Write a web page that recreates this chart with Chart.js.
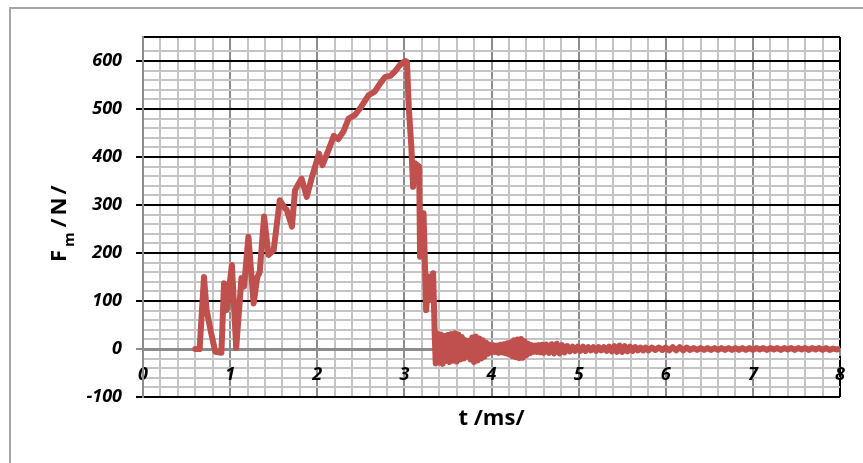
<!DOCTYPE html>
<html>
<head>
<meta charset="utf-8">
<script src="https://cdn.jsdelivr.net/npm/chart.js@4"></script>
<style>
  html, body { margin: 0; padding: 0; background: #fff; }
  #wrap { width: 863px; height: 463px; position: relative; }
</style>
</head>
<body>
<div id="wrap"><canvas id="forceChart"></canvas></div>
<script>
// force pulse (t in ms, F in N)
const riseTimeMs = [
  0.60, 0.65, 0.70, 0.73, 0.78, 0.83, 0.90, 0.93, 0.96, 1.02,
  1.07, 1.13, 1.16, 1.21, 1.27, 1.31, 1.34, 1.39, 1.44, 1.50,
  1.57, 1.63, 1.65, 1.71, 1.745, 1.82, 1.88, 1.94, 2.02, 2.06,
  2.13, 2.19, 2.24, 2.30, 2.36, 2.43, 2.49, 2.59, 2.66, 2.72,
  2.78, 2.84, 2.89, 2.95, 3.01, 3.03, 3.05, 3.08, 3.10, 3.12,
  3.17, 3.18, 3.22, 3.25, 3.28, 3.30, 3.33, 3.35
];
const riseForceN = [
  0, 0, 150, 81, 35, -6, -8, 137, 81, 175,
  2, 148, 130, 234, 95, 148, 161, 276, 196, 206,
  310, 293, 290, 255, 331, 355, 317, 359, 407, 383,
  415, 444, 437, 453, 480, 487, 501, 529, 536, 553,
  567, 569, 578, 592, 600, 598, 505, 421, 338, 387,
  380, 192, 283, 81, 151, 102, 158, 20
];

// ringing after the drop
const ringTimeMs = [
  3.36, 3.38, 3.40, 3.42, 3.44, 3.46, 3.48, 3.50, 3.52, 3.54,
  3.56, 3.58, 3.60, 3.62, 3.64, 3.66, 3.68, 3.70, 3.72, 3.74,
  3.76, 3.78, 3.80, 3.82, 3.84, 3.86, 3.88, 3.90, 3.92, 3.94,
  3.96, 3.98, 4.00, 4.02, 4.04, 4.06, 4.08, 4.10, 4.12, 4.14,
  4.16, 4.18, 4.20, 4.22, 4.24, 4.26, 4.28, 4.30, 4.32, 4.34,
  4.36, 4.38, 4.40, 4.42, 4.44, 4.46, 4.48, 4.50, 4.52, 4.54,
  4.56, 4.58, 4.60
];
const ringForceN = [
  -30, 32, -28, 30, -31, 27, -25, 29, -27, 31,
  -24, 33, -26, 30, -22, 25, -20, 18, -16, 17,
  -22, 24, -27, 26, -24, 22, -20, 18, -16, 13,
  -10, 9, -7, 8, -6, 7, -8, 9, -7, 10,
  -9, 12, -11, 14, -15, 18, -17, 20, -19, 21,
  -18, 16, -13, 11, -9, 8, -6, 7, -6, 8,
  -7, 9, -8
];

const tailTimeMs = [
  4.63, 4.66, 4.69, 4.72, 4.75, 4.78, 4.81, 4.84, 4.87, 4.90,
  4.93, 4.96, 4.99, 5.02, 5.05, 5.08, 5.11, 5.14, 5.17, 5.20,
  5.23, 5.26, 5.29, 5.32, 5.35, 5.38, 5.41, 5.44, 5.47, 5.50,
  5.53, 5.56, 5.59, 5.62, 5.65, 5.68, 5.71, 5.74, 5.77, 5.80,
  5.84, 5.88, 5.92, 5.96, 6.00, 6.04, 6.08, 6.12, 6.16, 6.20,
  6.24, 6.28, 6.32, 6.36, 6.40, 6.44, 6.48, 6.52, 6.56, 6.60,
  6.64, 6.68, 6.72, 6.76, 6.80, 6.84, 6.88, 6.92, 6.96, 7.00,
  7.04, 7.08, 7.12, 7.16, 7.20, 7.24, 7.28, 7.32, 7.36, 7.40,
  7.44, 7.48, 7.52, 7.56, 7.60, 7.64, 7.68, 7.72, 7.76, 7.80,
  7.84, 7.88, 7.92, 7.96, 8.00
];
const tailForceN = [
  9, -8, 10, -9, 11, -9, 8, -7, 6, -5,
  5, -4, 5, -4, 5, -4, 4, -3, 4, -4,
  4, -3, 4, -4, 5, -5, 6, -6, 7, -6,
  6, -5, 5, -4, 4, -3, 3, -3, 3, -3,
  3, -2, 3, -2, 3, -3, 4, -3, 4, -3,
  3, -2, 2, -2, 2, -2, 2, -2, 2, -2,
  2, -2, 2, -2, 2, -2, 2, -2, 2, -2,
  2, -1, 2, -2, 2, -1, 2, -2, 2, -1,
  2, -2, 2, -1, 2, -2, 2, -1, 2, -2,
  2, -2, 1, -1, 0
];

const xMin = 0, xMax = 8, xStep = 0.2;
const yMin = -100, yMax = 650, yStep = 20;
const xTitle = 't /ms/';
const yTitleMain = 'F', yTitleSub = 'm', yTitleRest = '/N/';

const timeMs = riseTimeMs.concat(ringTimeMs, tailTimeMs);
const forceN = riseForceN.concat(ringForceN, tailForceN);
const points = timeMs.map((t, i) => ({ x: t, y: forceN[i] }));

const isWhole = v => Math.abs(v - Math.round(v)) < 1e-6;
const isHundred = v => Math.abs(v / 100 - Math.round(v / 100)) < 1e-6;

const tickFont = { family: '"Open Sans"', size: 18, weight: 'bold', style: 'italic' };

// outer frame and white background
const frame = {
  id: 'frame',
  beforeDraw(chart) {
    const ctx = chart.ctx;
    ctx.save();
    ctx.fillStyle = '#fff';
    ctx.fillRect(0, 0, chart.width, chart.height);
    ctx.strokeStyle = '#a6a6a6';
    ctx.lineWidth = 2;
    ctx.strokeRect(10, 8, chart.width + 20, chart.height + 20);
    ctx.restore();
  }
};

// axis titles (y title needs a subscript)
const axisTitles = {
  id: 'axisTitles',
  afterDraw(chart) {
    const { ctx, chartArea } = chart;
    ctx.save();
    ctx.fillStyle = '#000';
    ctx.font = 'bold 22px "Open Sans"';
    ctx.textAlign = 'center';
    ctx.textBaseline = 'alphabetic';
    ctx.fillText(xTitle, (chartArea.left + chartArea.right) / 2, chartArea.bottom + 28);

    // F (246..262), m (234..245), /N/ (180..230) measured along the left edge
    const mainFont = 'bold 22px "Open Sans"';
    const subFont = 'bold 15px "Open Sans"';
    ctx.translate(66, 0);
    ctx.rotate(-Math.PI / 2);
    ctx.textAlign = 'left';
    ctx.font = mainFont;
    ctx.fillText(yTitleMain, -262, 0);
    ctx.font = subFont;
    ctx.fillText(yTitleSub, -247, 8);
    ctx.font = mainFont;
    ctx.letterSpacing = '3px';
    const wRest = ctx.measureText(yTitleRest).width;
    ctx.fillText(yTitleRest, -205 - wRest / 2, 0);
    ctx.restore();
  }
};

const ctx = document.getElementById('forceChart').getContext('2d');
new Chart(ctx, {
  type: 'line',
  data: {
    datasets: [{
      label: 'F',
      data: points,
      borderColor: '#c0504d',
      backgroundColor: '#c0504d',
      borderWidth: 6,
      pointRadius: 0,
      tension: 0,
      borderJoinStyle: 'round',
      borderCapStyle: 'round',
      fill: false
    }]
  },
  options: {
    responsive: true,
    maintainAspectRatio: false,
    animation: false,
    layout: { padding: { left: 9, top: 37, right: 23, bottom: 66 } },
    plugins: {
      legend: { display: false },
      tooltip: { enabled: false }
    },
    scales: {
      x: {
        type: 'linear',
        min: xMin,
        max: xMax,
        position: { y: 0 },
        border: { color: '#8c8c8c', width: 3 },
        grid: {
          color: c => c.tick.value === xMax ? '#000' : (isWhole(c.tick.value) ? '#8c8c8c' : '#c4c4c4'),
          lineWidth: 2,
          tickLength: 5,
          tickColor: c => isWhole(c.tick.value) ? '#8c8c8c' : 'rgba(0,0,0,0)'
        },
        ticks: {
          stepSize: xStep,
          autoSkip: false,
          maxRotation: 0,
          padding: 10,
          color: '#000',
          font: tickFont,
          callback: v => isWhole(v) ? String(Math.round(v)) : ''
        }
      },
      y: {
        min: yMin,
        max: yMax,
        border: { color: '#8c8c8c', width: 2 },
        grid: {
          color: c => {
            const v = c.tick.value;
            if (v === 0) return '#8c8c8c';
            if (v === yMax || isHundred(v)) return '#000';
            return '#c4c4c4';
          },
          lineWidth: 2,
          tickLength: 7,
          tickColor: c => (isHundred(c.tick.value) && c.tick.value !== 0) ? '#000' : (c.tick.value === 0 ? '#8c8c8c' : 'rgba(0,0,0,0)')
        },
        ticks: {
          stepSize: yStep,
          autoSkip: false,
          padding: 14,
          color: '#000',
          font: tickFont,
          callback: v => (isHundred(v) && v !== yMax) ? String(v) : ''
        },
        afterFit: scale => { scale.width = 134; }
      }
    }
  },
  plugins: [frame, axisTitles]
});
</script>
</body>
</html>
